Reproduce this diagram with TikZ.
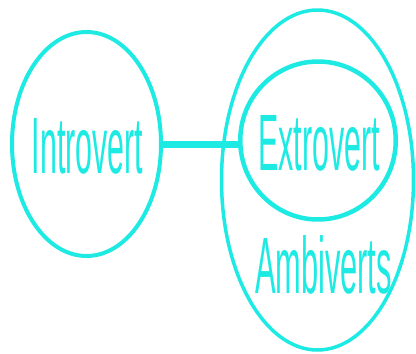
\documentclass[tikz,border=0pt]{standalone}
\usepackage{fontspec}
\setmainfont{Liberation Sans}
\usetikzlibrary{shapes.geometric}
\definecolor{cy}{RGB}{30,234,228}
\begin{document}
\begin{tikzpicture}[x=1pt,y=-1pt,
  ring/.style={draw=cy, ellipse, inner sep=0pt, outer sep=0pt},
  lbl/.style={text=cy, inner sep=0pt, anchor=base, font=\fontsize{80}{80}\selectfont}]
\useasboundingbox (0,0) rectangle (416,354);
\node[ring, line width=4pt, minimum width=149pt, minimum height=224pt] (L) at (86.5,144) {};
\node[ring, line width=3.5pt, minimum width=192pt, minimum height=340pt] (B) at (317.5,180) {};
\node[ring, line width=4.5pt, minimum width=155.5pt, minimum height=158pt] (E) at (318,140.5) {};
\node[lbl] (tI) at (87.5,173) {\scalebox{0.38}[1]{Introvert}};
\node[lbl] (tE) at (319,170) {\scalebox{0.38}[1]{Extrovert}};
\node[lbl] (tA) at (323.5,293) {\scalebox{0.385}[1]{Ambiverts}};
\draw[cy, line width=7pt] (L.east) -- (L.east -| E.west);
\end{tikzpicture}
\end{document}
